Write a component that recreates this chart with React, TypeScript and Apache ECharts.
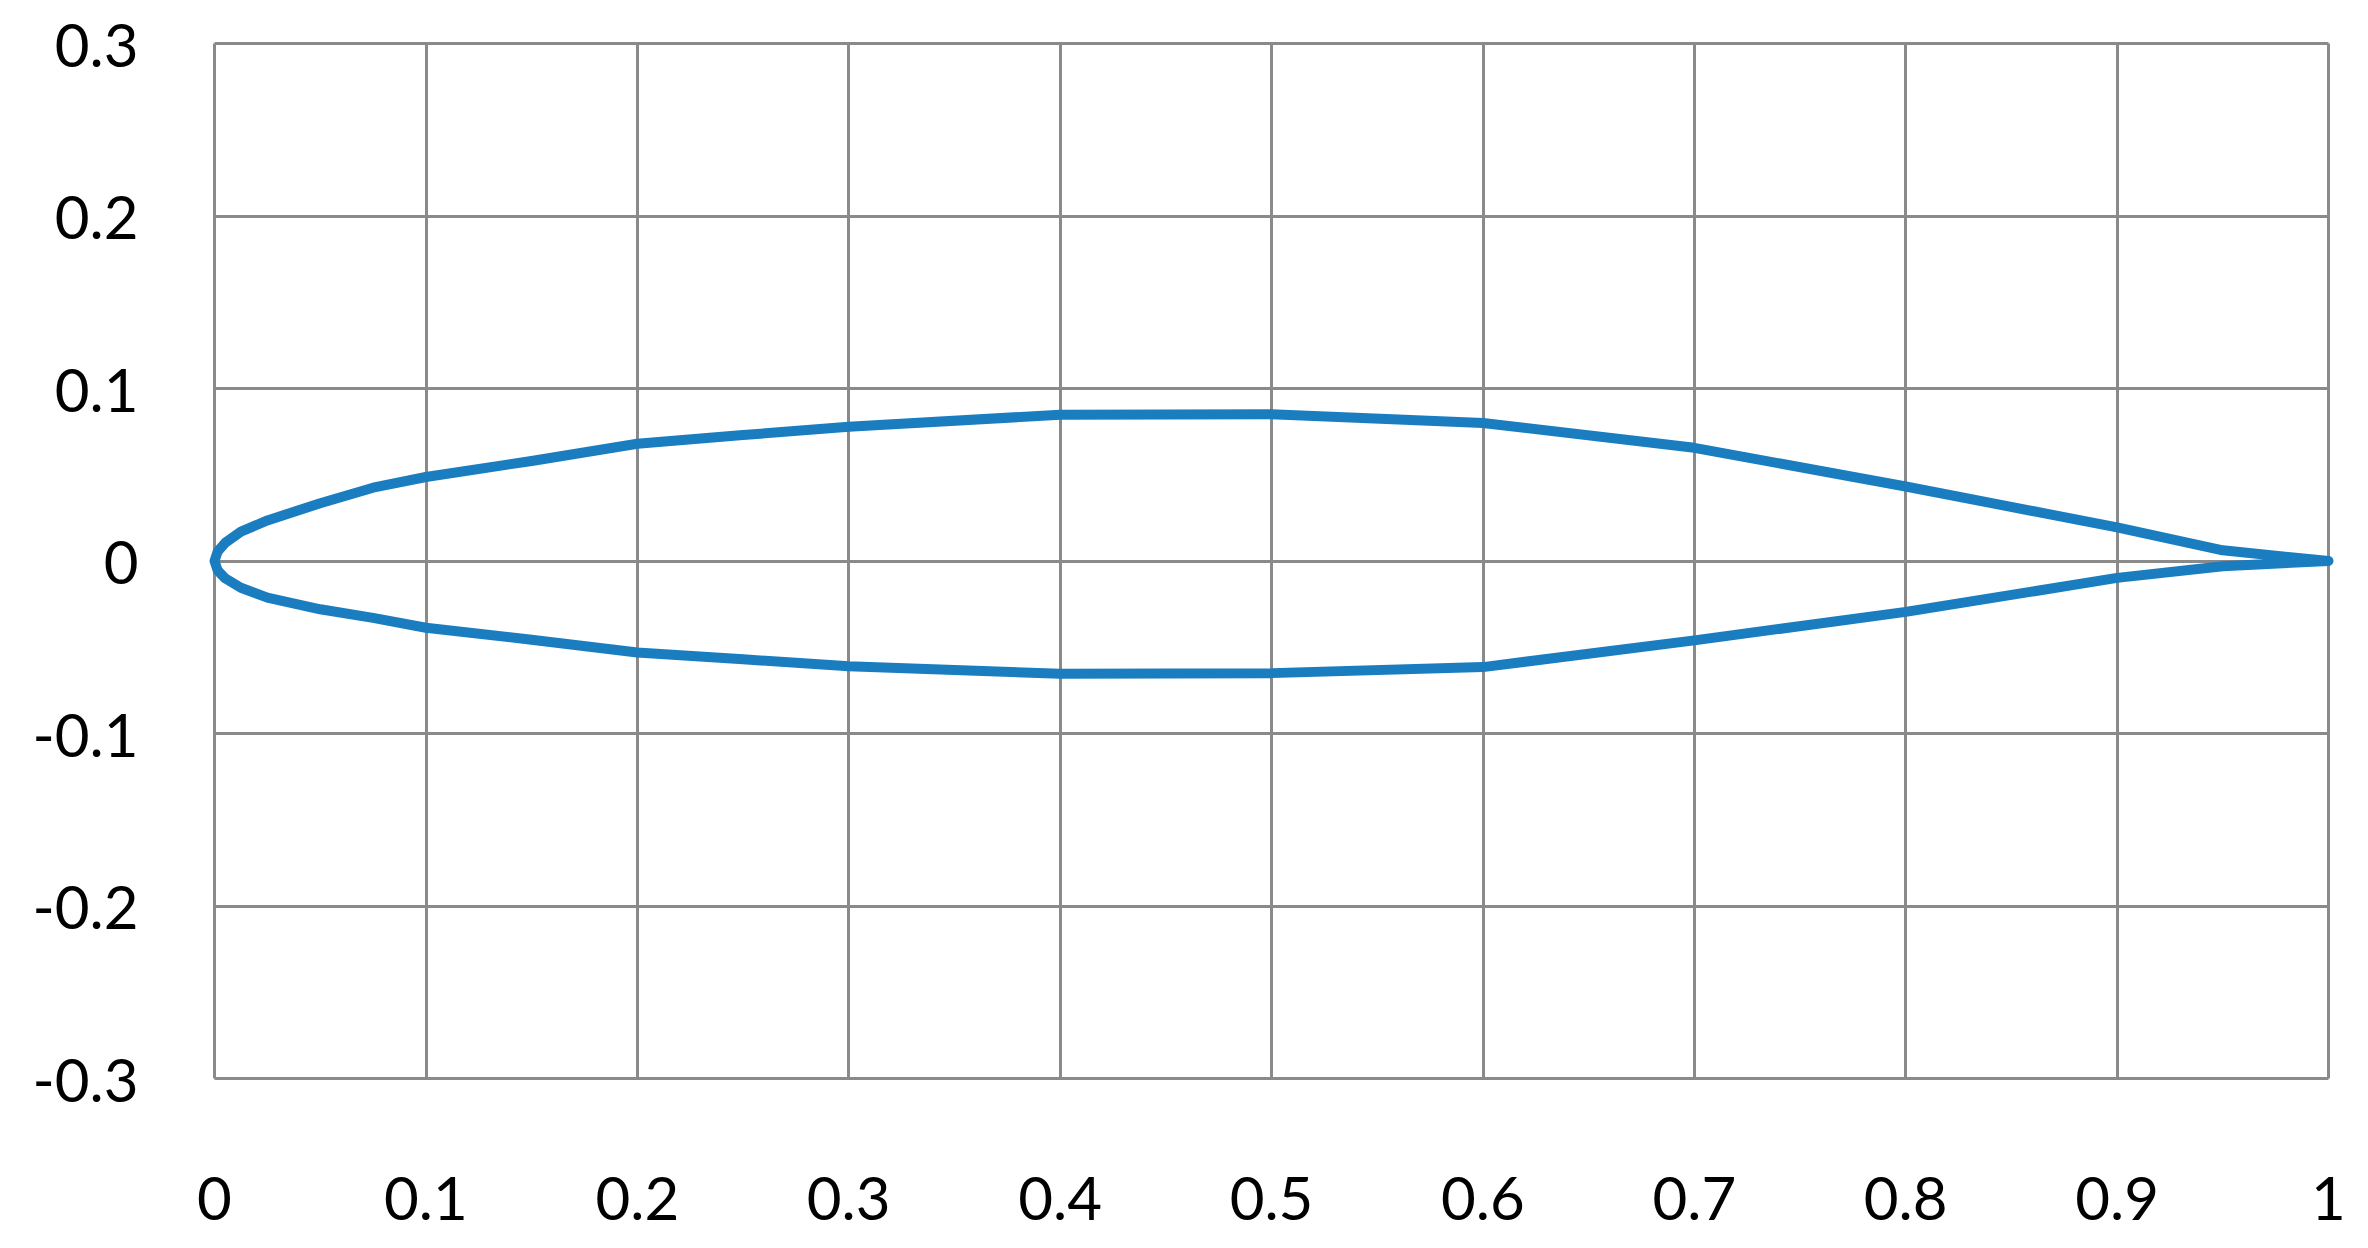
import React, { useEffect, useRef } from "react";
import * as echarts from "echarts";

// Airfoil upper and lower surface coordinates (x/c, y/c)
const stations = [0, 0.0015, 0.005, 0.0125, 0.025, 0.05, 0.075, 0.1, 0.15, 0.2, 0.25, 0.3, 0.4, 0.5, 0.6, 0.7, 0.8, 0.9, 0.95, 1.0];
const upperY = [0, 0.0055, 0.0105, 0.0170, 0.0235, 0.0335, 0.0425, 0.0487, 0.058, 0.068, 0.073, 0.0778, 0.0848, 0.0851, 0.080, 0.0656, 0.0432, 0.0195, 0.0062, 0];
const lowerY = [0, -0.0055, -0.0100, -0.0155, -0.0212, -0.028, -0.033, -0.0387, -0.0456, -0.053, -0.057, -0.061, -0.0654, -0.065, -0.0615, -0.046, -0.0295, -0.0098, -0.003, 0];

const xTicks = [0, 0.1, 0.2, 0.3, 0.4, 0.5, 0.6, 0.7, 0.8, 0.9, 1];
const yTicks = [-0.3, -0.2, -0.1, 0, 0.1, 0.2, 0.3];

export default function App() {
  const ref = useRef<HTMLDivElement>(null);
  useEffect(() => {
    if (!ref.current) return;
    const chart = echarts.init(ref.current, undefined, { renderer: "svg" });
    // closed outline: trailing edge -> leading edge along upper, then back along lower
    const outline: number[][] = [];
    for (let i = stations.length - 1; i >= 0; i--) outline.push([stations[i], upperY[i]]);
    for (let i = 1; i < stations.length; i++) outline.push([stations[i], lowerY[i]]);

    const gridColor = "#8a8a8a";
    const labelStyle = {
      color: "#000000",
      fontFamily: "Lato, 'Open Sans', sans-serif",
      fontSize: 60,
    };
    chart.setOption({
      animation: false,
      backgroundColor: "#ffffff",
      grid: { left: 214.5, top: 43.5, width: 2114, height: 1035, containLabel: false },
      xAxis: {
        type: "value",
        min: xTicks[0],
        max: xTicks[xTicks.length - 1],
        interval: 0.1,
        axisLine: { show: false, onZero: false },
        axisTick: { show: false },
        splitLine: { show: true, showMinLine: true, showMaxLine: true, lineStyle: { color: gridColor, width: 3 } },
        axisLabel: {
          ...labelStyle,
          margin: 88,
          formatter: (v: number) => {
            const t = xTicks.find((k) => Math.abs(k - v) < 1e-9);
            return t === undefined ? "" : String(t);
          },
        },
      },
      yAxis: {
        type: "value",
        min: yTicks[0],
        max: yTicks[yTicks.length - 1],
        interval: 0.1,
        axisLine: { show: false, onZero: false },
        axisTick: { show: false },
        splitLine: { show: true, showMinLine: true, showMaxLine: true, lineStyle: { color: gridColor, width: 3 } },
        axisLabel: {
          ...labelStyle,
          margin: 76,
          formatter: (v: number) => {
            const t = yTicks.find((k) => Math.abs(k - v) < 1e-9);
            return t === undefined ? "" : String(t);
          },
        },
      },
      series: [
        {
          type: "line",
          data: outline,
          showSymbol: false,
          smooth: false,
          lineStyle: { color: "#1a7dc0", width: 10, join: "round", cap: "round" },
        },
      ],
    });
    return () => chart.dispose();
  }, []);
  return (
    <div
      ref={ref}
      style={{ position: "fixed", left: 0, top: 0, width: 2368, height: 1248, background: "#fff" }}
    />
  );
}
